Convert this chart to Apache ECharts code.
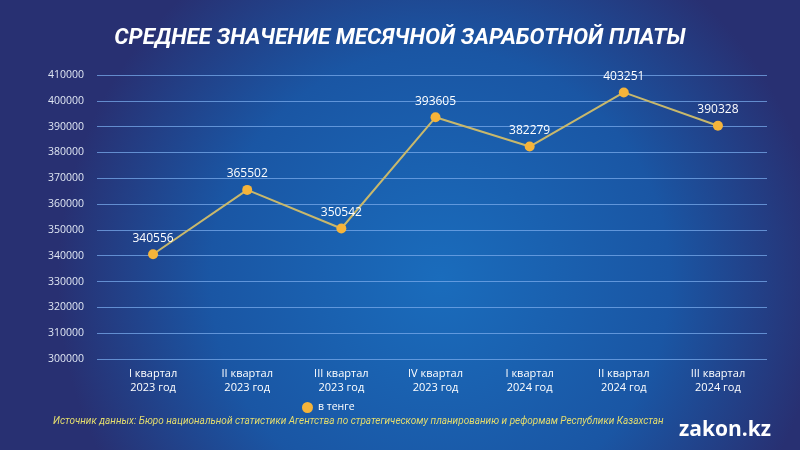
<!DOCTYPE html>
<html><head><meta charset="utf-8">
<script src="https://cdn.jsdelivr.net/npm/echarts@6/dist/echarts.min.js"></script>
<style>html,body{margin:0;padding:0;background:#1b3f88}#c{width:800px;height:450px}</style>
</head><body><div id="c"></div>
<script>
const categories = ['I квартал\n2023 год','II квартал\n2023 год','III квартал\n2023 год','IV квартал\n2023 год','I квартал\n2024 год','II квартал\n2024 год','III квартал\n2024 год'];
const salary = [340556, 365502, 350542, 393605, 382279, 403251, 390328];
const yMin = 300000, yMax = 410000, yStep = 10000;
const titleText = 'СРЕДНЕЕ ЗНАЧЕНИЕ МЕСЯЧНОЙ ЗАРАБОТНОЙ ПЛАТЫ';
const seriesName = 'в тенге';
const sourceText = 'Источник данных: Бюро национальной статистики Агентства по стратегическому планированию и реформам Республики Казахстан';
const brand = 'zakon.kz';

const chart = echarts.init(document.getElementById('c'));
chart.setOption({
  backgroundColor: {
    type: 'radial', x: 0.55, y: 0.62, r: 0.85,
    colorStops: [
      {offset: 0, color: '#1a6cbc'},
      {offset: 0.6, color: '#1a56a4'},
      {offset: 1, color: '#283072'}
    ]
  },
  title: {
    text: titleText, left: 'center', top: 22,
    textStyle: {color: '#ffffff', fontFamily: 'Roboto', fontWeight: 'bold', fontStyle: 'italic', fontSize: 22.5}
  },
  legend: {
    data: [seriesName], top: 397, left: 297, itemWidth: 11, itemHeight: 11, icon: 'circle', itemGap: 6,
    textStyle: {color: '#ffffff', fontFamily: 'Open Sans', fontSize: 10.5}
  },
  graphic: [
    {type: 'text', left: 53, top: 416, style: {text: sourceText, fill: '#e3dc6e', font: 'italic 10px Roboto'}},
    {type: 'text', right: 29, top: 420, style: {text: brand, fill: '#ffffff', font: 'bold 21px "Open Sans"'}}
  ],
  grid: [
    {left: 97, right: 33, top: 75, bottom: 91},
    {left: 106, right: 35, top: 75, bottom: 91}
  ],
  xAxis: [
    {type: 'category', gridIndex: 0, data: categories, show: false},
    {type: 'category', gridIndex: 1, data: categories, boundaryGap: true,
     axisLine: {show: false}, axisTick: {show: false},
     axisLabel: {color: '#ffffff', fontFamily: 'Open Sans', fontSize: 11, lineHeight: 14, margin: 8}}
  ],
  yAxis: [
    {type: 'value', gridIndex: 0, min: yMin, max: yMax, interval: yStep,
     axisLine: {show: false}, axisTick: {show: false},
     axisLabel: {color: '#dfe6f3', fontFamily: 'Open Sans', fontSize: 10.5, margin: 13, verticalAlign: 'middle',
                 padding: [0, 0, 6, 0], formatter: function (v) { return String(v); }},
     splitLine: {lineStyle: {color: 'rgba(120,170,235,0.75)', width: 1}}},
    {type: 'value', gridIndex: 1, min: yMin, max: yMax, interval: yStep, show: false, splitLine: {show: false}}
  ],
  series: [{
    name: seriesName, type: 'line', xAxisIndex: 1, yAxisIndex: 1, data: salary,
    symbol: 'circle', symbolSize: 10,
    lineStyle: {color: '#c8b86c', width: 2},
    itemStyle: {color: '#f6b43a'},
    label: {show: true, position: 'top', distance: 5, color: '#ffffff', fontFamily: 'Open Sans', fontSize: 12}
  }]
});
</script></body></html>
